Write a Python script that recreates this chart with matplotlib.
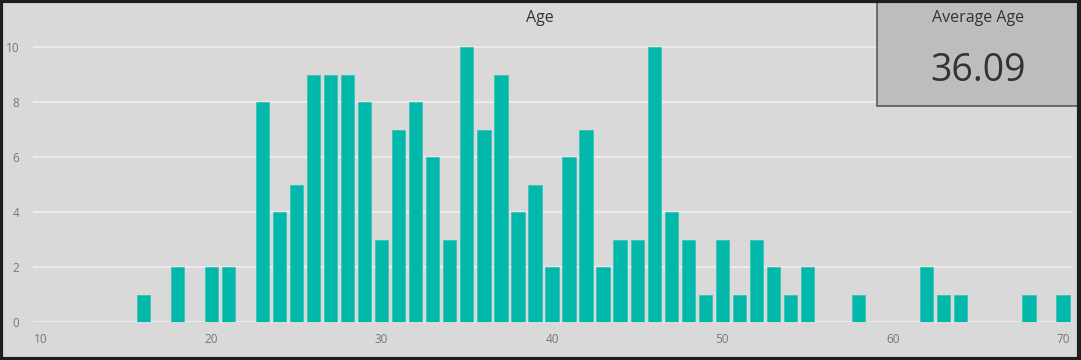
import matplotlib.pyplot as plt
from matplotlib.patches import Rectangle

# age histogram (count per age)
ages = [16, 18, 20, 21, 23, 24, 25, 26, 27, 28, 29, 30, 31, 32, 33, 34, 35,
        36, 37, 38, 39, 40, 41, 42, 43, 44, 45, 46, 47, 48, 49, 50, 51, 52,
        53, 54, 55, 58, 62, 63, 64, 68, 70]
counts = [1, 2, 2, 2, 8, 4, 5, 9, 9, 9, 8, 3, 7, 8, 6, 3, 10,
          7, 9, 4, 5, 2, 6, 7, 2, 3, 3, 10, 4, 3, 1, 3, 1, 3,
          2, 1, 2, 1, 2, 1, 1, 1, 1]
x_ticks = [10, 20, 30, 40, 50, 60, 70]
y_ticks = [0, 2, 4, 6, 8, 10]
card_title = 'Average Age'
card_value = '36.09'

plt.rcParams['font.family'] = ['Open Sans', 'DejaVu Sans']

W, H = 1081, 360
fig = plt.figure(figsize=(W / 100, H / 100), dpi=100)
fig.patch.set_facecolor('#d9d9d9')

ax = fig.add_axes([33 / W, (H - 322) / H, (1072 - 33) / W, 302.5 / H])
ax.set_facecolor('#d9d9d9')
ax.bar(ages, counts, width=0.78, color='#01b8aa', edgecolor='#3cc4b8',
       lw=0.6, zorder=3)
ax.set_xlim(9.53, 70.53)
ax.set_ylim(0, 11)
ax.set_xticks(x_ticks)
ax.set_yticks(y_ticks)
ax.tick_params(length=0, colors='#777777', labelsize=8.5)
ax.tick_params(axis='y', pad=10)
ax.tick_params(axis='x', pad=8)
ax.grid(axis='y', color='#ececec', lw=1.3, zorder=0)
ax.set_axisbelow(True)
for s in ax.spines.values():
    s.set_visible(False)

fig.text(540 / W, 1 - 18 / H, 'Age', ha='center', va='center',
         fontsize=11.5, color='#333333')

# card in top right corner
card = Rectangle((877 / W, 1 - 106 / H), (1079 - 877) / W, 106 / H,
                 transform=fig.transFigure, facecolor='#b8b8b8', alpha=0.85,
                 edgecolor='#444444', lw=1.2, zorder=5)
fig.patches.append(card)
fig.text(978 / W, 1 - 18 / H, card_title, ha='center', va='center',
         fontsize=11.5, color='#333333', zorder=6)
fig.text(978 / W, 1 - 71 / H, card_value, ha='center', va='center',
         fontsize=27, color='#333333', zorder=6)

# outer frame
frame = Rectangle((0.001, 0.003), 0.997, 0.993, transform=fig.transFigure,
                  facecolor='none', edgecolor='#1e1e1e', lw=3, zorder=7)
fig.patches.append(frame)

fig.savefig('out.png', dpi=100, facecolor=fig.get_facecolor())
